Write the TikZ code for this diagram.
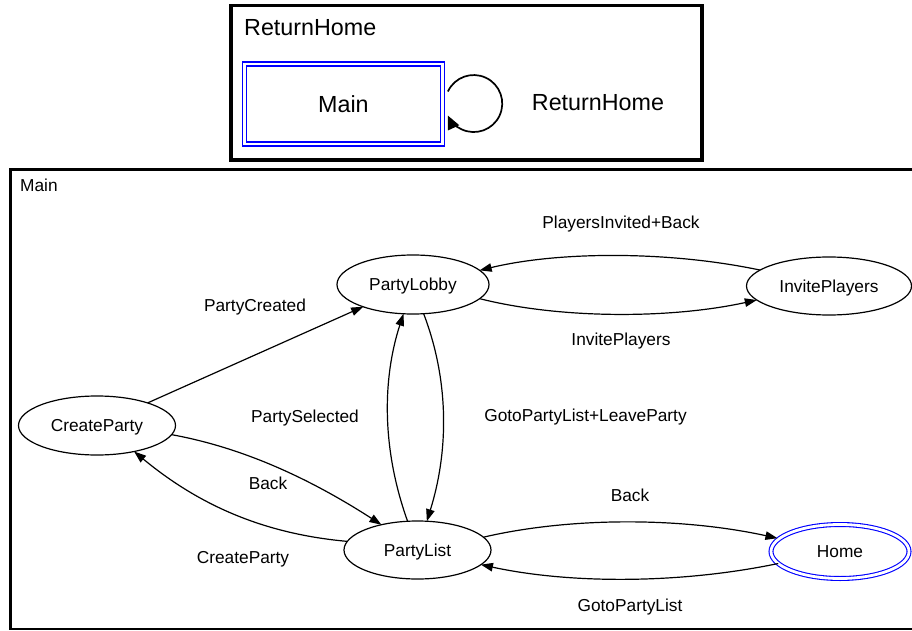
\documentclass[tikz,border=0pt]{standalone}
\usepackage{fontspec}
\setmainfont{Liberation Sans}
\usetikzlibrary{shapes.geometric,arrows.meta}
\newcommand\smallfs{\fontsize{17.3}{20}\selectfont}
\newcommand\largefs{\fontsize{23.3}{27}\selectfont}
\begin{document}
\begin{tikzpicture}[x=1pt,y=1pt,
  state/.style={ellipse, draw, line width=1.2pt, inner sep=0pt, outer sep=0pt,
    font=\smallfs, text height=12.4pt, text depth=0pt},
  finalstate/.style={state, draw=blue, double=white, double distance=2.8pt, line width=1.1pt},
  lbl/.style={inner sep=0pt, font=\smallfs, text height=12.4pt, text depth=0pt},
  biglbl/.style={inner sep=0pt, font=\largefs, text height=16.7pt, text depth=0pt},
  arr/.style={line width=1.2pt, -{Triangle[length=12pt,width=8.5pt]}},
  looparr/.style={line width=1.7pt, -{Triangle[length=13.5pt,width=12pt]}},
  frame/.style={draw, line width=3.3pt},
  subframe/.style={draw, line width=2.5pt},
  superstate/.style={rectangle, draw=blue, double=white, double distance=2.7pt,
    line width=1.3pt, inner sep=0pt, outer sep=0pt, minimum width=198pt,
    minimum height=80pt, font=\largefs, text height=16.7pt, text depth=0pt}]
\useasboundingbox (0,0) rectangle (912,630);

% outer region: ReturnHome
\draw[frame] (231,470) rectangle (702,624.3);
\node[biglbl, anchor=west] (rhtitle) at (244,603) {ReturnHome};
\node[superstate] (mainbox) at (343.4,526) {Main};
\node[biglbl] (rhlabel) at (598,528) {ReturnHome};
\draw[looparr] ([xshift=5.5pt,yshift=12.5pt]mainbox.east)
  arc[start angle=155, end angle=-155, radius=28.5pt];

% inner region: Main
\draw[subframe] (10.5,460.5) rectangle (914,1);
\node[lbl, anchor=west] (maintitle) at (20,445) {Main};

\node[state, minimum width=152pt, minimum height=59pt] (lobby)  at (413,345.5) {PartyLobby};
\node[state, minimum width=165pt, minimum height=58pt] (invite) at (829,344) {InvitePlayers};
\node[state, minimum width=157pt, minimum height=59pt] (create) at (97,204.5) {CreateParty};
\node[state, minimum width=147pt, minimum height=58pt] (list)   at (417.5,80) {PartyList};
\node[finalstate, minimum width=138pt, minimum height=54pt] (home) at (840,78.5) {Home};

% transitions
\draw[arr] (create) -- (lobby);
\draw[arr] (list.109) .. controls (382,180) and (382,250) .. (lobby.252);
\draw[arr] (lobby.-70) .. controls (449,250) and (449,180) .. (list.72);
\draw[arr] (lobby.-12) .. controls (560,311) and (670,311) .. (invite.191);
\draw[arr] (invite.167) .. controls (670,379) and (560,379) .. (lobby.12);
\draw[arr] (create.-7) .. controls (245,182) and (312,150) .. (list.145);
\draw[arr] (list.173) .. controls (265,96) and (200,124) .. (create.-35);
\draw[arr, shorten >=2pt] (list.11) .. controls (570,113) and (680,113) .. (home.168);
\draw[arr] (home.191) .. controls (680,46) and (570,46) .. (list.-13);

% transition labels
\node[lbl] (lcreated)  at (255,324.3) {PartyCreated};
\node[lbl] (lselected) at (305,214) {PartySelected};
\node[lbl] (lleave)    at (585.5,215) {GotoPartyList+LeaveParty};
\node[lbl] (linvited)  at (621,407.3) {PlayersInvited+Back};
\node[lbl] (linvite)   at (621,291) {InvitePlayers};
\node[lbl] (lbackone)  at (268,147) {Back};
\node[lbl] (lcreate)   at (243,73) {CreateParty};
\node[lbl] (lbacktwo)  at (630,134.3) {Back};
\node[lbl] (lgoto)     at (630,25) {GotoPartyList};
\end{tikzpicture}
\end{document}
